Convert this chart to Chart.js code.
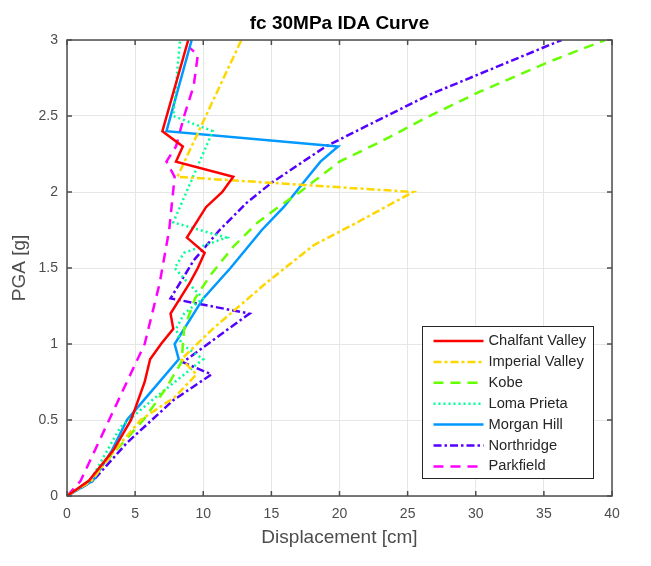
<!DOCTYPE html>
<html>
<head>
<meta charset="utf-8">
<script src="https://cdn.jsdelivr.net/npm/chart.js@4.4.1/dist/chart.umd.min.js"></script>
<style>
    html, body { margin: 0; padding: 0; background: #fff; }
    #wrap { width: 651px; height: 566px; position: relative; }
</style>
</head>
<body>
<div id="wrap"><canvas id="idaChart" width="651" height="566"></canvas></div>
<script>
// レコード名
const records = ['Chalfant Valley', 'Imperial Valley', 'Kobe', 'Loma Prieta', 'Morgan Hill', 'Northridge', 'Parkfield'];

// 各レコードの変位 [cm] と PGA [g]
const chalfantDisp = [0, 1.6, 3.4, 4.7, 5.1, 5.7, 6.1, 6.9, 7.8, 7.6, 8.3, 9.0, 9.6, 10.1, 8.8, 9.5, 10.2, 11.4, 12.2, 8.0, 8.5, 7.0, 8.9];
const chalfantPga  = [0, 0.1, 0.3, 0.5, 0.6, 0.75, 0.9, 1.0, 1.1, 1.2, 1.3, 1.4, 1.5, 1.6, 1.7, 1.8, 1.9, 2.0, 2.1, 2.2, 2.3, 2.4, 3.0];

const imperialDisp = [0, 1.8, 3.5, 5.4, 7.9, 9.5, 8.4, 10.7, 14.6, 18.1, 21.3, 25.4, 8.1, 12.8];
const imperialPga  = [0, 0.1, 0.3, 0.5, 0.65, 0.8, 0.9, 1.1, 1.4, 1.65, 1.8, 2.0, 2.1, 3.0];

const kobeDisp = [0, 1.6, 3.6, 5.6, 7.2, 8.4, 8.6, 9.4, 10.5, 12.2, 14.0, 15.5, 17.1, 20.0, 23.0, 26.6, 30.3, 35.2, 39.5];
const kobePga  = [0, 0.1, 0.3, 0.5, 0.7, 0.88, 1.1, 1.3, 1.45, 1.64, 1.8, 1.9, 2.0, 2.2, 2.33, 2.5, 2.66, 2.85, 3.0];

const lomaDisp = [0, 1.7, 3.9, 6.1, 10.0, 8.4, 8.0, 8.6, 10.0, 8.9, 7.9, 8.6, 11.7, 7.8, 10.7, 7.8, 8.3];
const lomaPga  = [0, 0.1, 0.45, 0.62, 0.9, 1.0, 1.1, 1.2, 1.3, 1.4, 1.5, 1.6, 1.7, 1.8, 2.4, 2.5, 3.0];

const morganDisp = [0, 1.9, 3.3, 4.4, 6.3, 8.2, 7.9, 10.0, 12.0, 14.3, 15.9, 17.7, 18.6, 19.9, 7.3, 9.15];
const morganPga  = [0, 0.1, 0.3, 0.5, 0.7, 0.9, 1.0, 1.3, 1.5, 1.75, 1.9, 2.1, 2.2, 2.3, 2.4, 3.0];

const northDisp = [0, 1.9, 4.4, 7.8, 10.6, 8.5, 11.7, 13.4, 7.6, 9.3, 11.2, 13.2, 15.0, 19.0, 23.0, 26.6, 30.1, 36.3];
const northPga  = [0, 0.1, 0.35, 0.63, 0.8, 0.88, 1.09, 1.2, 1.3, 1.55, 1.75, 1.93, 2.06, 2.3, 2.48, 2.64, 2.77, 3.0];

const parkDisp = [0, 1.0, 5.7, 6.8, 7.5, 7.9, 7.3, 8.0, 8.6, 9.3, 9.6, 9.0];
const parkPga  = [0, 0.1, 1.0, 1.4, 1.75, 2.1, 2.2, 2.3, 2.5, 2.7, 2.9, 2.95];

// 目盛り
const xTicks = [0, 5, 10, 15, 20, 25, 30, 35, 40];
const yTicks = [0, 0.5, 1, 1.5, 2, 2.5, 3];

const pairs = (xs, ys) => xs.map((x, i) => ({ x: x, y: ys[i] }));

const seriesData = [
    pairs(chalfantDisp, chalfantPga),
    pairs(imperialDisp, imperialPga),
    pairs(kobeDisp, kobePga),
    pairs(lomaDisp, lomaPga),
    pairs(morganDisp, morganPga),
    pairs(northDisp, northPga),
    pairs(parkDisp, parkPga)
];
const colors = ['#ff0000', '#ffd700', '#66ff00', '#00ff99', '#0099ff', '#5500ff', '#ff00ff'];
const dashes = [[], [8, 3, 3, 3], [10, 7], [2, 3], [], [8, 3, 2.5, 3], [10, 7]];

const FONT = "'Liberation Sans', Arial, sans-serif";
const AXIS = '#4d4d4d';
const TITLE = 'fc 30MPa IDA Curve';

// タイトル、内向き目盛りと枠
const boxPlugin = {
    id: 'box',
    afterDraw(chart) {
        const { ctx, chartArea: a, scales } = chart;
        ctx.save();
        ctx.fillStyle = '#000';
        ctx.font = 'bold 19px ' + FONT;
        ctx.textAlign = 'center';
        ctx.textBaseline = 'middle';
        ctx.fillText(TITLE, (a.left + a.right) / 2, 24);

        ctx.strokeStyle = AXIS;
        ctx.lineWidth = 1.5;
        ctx.strokeRect(a.left, a.top, a.right - a.left, a.bottom - a.top);
        const len = 5;
        ctx.beginPath();
        xTicks.forEach(v => {
            const px = scales.x.getPixelForValue(v);
            ctx.moveTo(px, a.bottom); ctx.lineTo(px, a.bottom - len);
            ctx.moveTo(px, a.top); ctx.lineTo(px, a.top + len);
        });
        yTicks.forEach(v => {
            const py = scales.y.getPixelForValue(v);
            ctx.moveTo(a.left, py); ctx.lineTo(a.left + len, py);
            ctx.moveTo(a.right, py); ctx.lineTo(a.right - len, py);
        });
        ctx.stroke();
        ctx.restore();
    }
};

// 凡例（プロット内右下）
const legendPlugin = {
    id: 'boxLegend',
    afterDraw(chart) {
        const { ctx } = chart;
        const left = 422.5, top = 326.5, w = 171, h = 152;
        ctx.save();
        ctx.fillStyle = '#fff';
        ctx.fillRect(left, top, w, h);
        ctx.strokeStyle = '#262626';
        ctx.lineWidth = 1;
        ctx.strokeRect(left, top, w, h);
        ctx.font = '14.7px ' + FONT;
        ctx.textBaseline = 'middle';
        chart.data.datasets.forEach((ds, i) => {
            const y = top + 14.5 + i * 20.9;
            ctx.strokeStyle = ds.borderColor;
            ctx.lineWidth = ds.borderWidth;
            ctx.setLineDash(ds.borderDash || []);
            ctx.beginPath();
            ctx.moveTo(left + 11, y);
            ctx.lineTo(left + 61, y);
            ctx.stroke();
            ctx.setLineDash([]);
            ctx.fillStyle = '#262626';
            ctx.fillText(ds.label, left + 66, y);
        });
        ctx.restore();
    }
};

document.addEventListener('DOMContentLoaded', () => {
    Chart.defaults.font.family = FONT;
    Chart.defaults.color = AXIS;

    new Chart(document.getElementById('idaChart'), {
        type: 'line',
        data: {
            datasets: records.map((name, i) => ({
                label: name,
                data: seriesData[i],
                borderColor: colors[i],
                backgroundColor: colors[i],
                borderWidth: 2.5,
                borderDash: dashes[i],
                pointRadius: 0,
                fill: false,
                tension: 0
            }))
        },
        options: {
            responsive: false,
            animation: false,
            layout: { padding: { left: 0, right: 39, top: 40, bottom: 0 } },
            plugins: {
                legend: { display: false },
                tooltip: { enabled: false },
                title: { display: false }
            },
            scales: {
                x: {
                    type: 'linear',
                    min: 0, max: 40,
                    afterBuildTicks: (s) => { s.ticks = xTicks.map(v => ({ value: v })); },
                    afterFit: (s) => { s.height = 70; },
                    grid: { color: '#e6e6e6', drawTicks: false },
                    border: { display: false },
                    ticks: { font: { size: 14 }, padding: 10, color: AXIS, maxRotation: 0 },
                    title: {
                        display: true, text: 'Displacement [cm]',
                        font: { size: 19 }, color: AXIS,
                        padding: { top: 0, bottom: 17 }
                    }
                },
                y: {
                    type: 'linear',
                    min: 0, max: 3,
                    afterBuildTicks: (s) => { s.ticks = yTicks.map(v => ({ value: v })); },
                    afterFit: (s) => { s.width = 67; },
                    grid: { color: '#e6e6e6', drawTicks: false },
                    border: { display: false },
                    ticks: {
                        font: { size: 14 }, padding: 9, color: AXIS,
                        callback: (v) => String(v)
                    },
                    title: {
                        display: true, text: 'PGA [g]',
                        font: { size: 19 }, color: AXIS,
                        padding: { top: 8, bottom: 0 }
                    }
                }
            }
        },
        plugins: [boxPlugin, legendPlugin]
    });
});
</script>
</body>
</html>
